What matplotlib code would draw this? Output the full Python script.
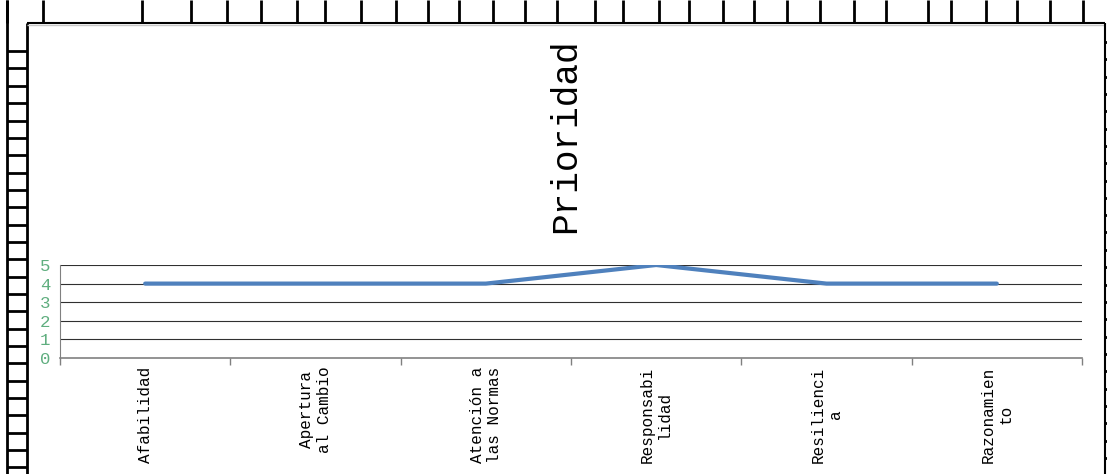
import numpy as np
import matplotlib.pyplot as plt
from matplotlib.lines import Line2D

# chart data
categorias = ["Afabilidad", "Apertura\nal Cambio", "Atención a\nlas Normas",
              "Responsabi\nlidad", "Resilienci\na", "Razonamien\nto"]
prioridad = [4, 4, 4, 5, 4, 4]
y_ticks = [0, 1, 2, 3, 4, 5]

# spreadsheet grid behind the chart (pixel positions)
col_lines = [7, 43, 142, 191, 227, 261, 297, 325, 361, 396, 428, 459, 493, 525,
             557, 595, 623, 659, 689, 723, 754, 787, 820, 854, 886, 928, 951,
             986, 1017, 1050, 1083]
row_lines = [50.7, 68, 86, 103, 120.7, 138, 155, 172.7, 190, 207, 224.7, 242,
             259, 276.7, 294, 311, 328.7, 346, 363, 380.7, 398, 415, 432.7, 450, 467]
right_ticks = [41.7, 59, 76.5, 94, 111, 128.5, 146, 163, 180.5, 198, 215, 232.5,
               250, 267, 284.5, 302, 319, 336.5, 354, 371, 388.5, 406, 423, 440.5, 458]

W, H = 1107, 474
fig = plt.figure(figsize=(W / 100, H / 100), dpi=100)
fig.patch.set_facecolor("white")


def fx(x):
    return x / W


def fy(y):
    return 1 - y / H


def fline(xs, ys, lw=2.0, color="black"):
    fig.add_artist(Line2D([fx(v) for v in xs], [fy(v) for v in ys],
                          transform=fig.transFigure, color=color, lw=lw,
                          solid_capstyle="butt"))


for x in col_lines:
    fline([x, x], [0, 23])
fline([7, 7], [0, H])
fline([27, 27], [23, H])
for y in row_lines:
    fline([7, 27], [y, y])
fline([27, 1105], [23, 23], lw=1.5)
fline([27, 1105], [24.5, 24.5], lw=1.0, color="#c8c8c8")
fline([1105, 1105], [23, H], lw=1.5)
for y in right_ticks:
    fline([1105, W], [y, y])

# chart axes
ax = fig.add_axes([fx(60), fy(358), fx(1082) - fx(60), fy(265) - fy(358)])
x = np.arange(len(categorias))
ax.plot(x, prioridad, color="#4f81bd", lw=3.0, solid_capstyle="round", zorder=3)

ax.set_xlim(-0.5, len(categorias) - 0.5)
ax.set_ylim(0, 5)
ax.set_yticks(y_ticks)
ax.set_yticklabels([str(v) for v in y_ticks], family="Liberation Mono",
                   fontsize=12.5, color="#5fae7f")
ax.tick_params(axis="y", length=0, pad=7)
for v in y_ticks[1:]:
    ax.axhline(v, color="#303030", lw=0.8, zorder=1)

ax.set_xticks(x)
ax.set_xticklabels(categorias, rotation=90, family="Liberation Mono", fontsize=11.5,
                   ha="center", va="top", multialignment="center")
ax.tick_params(axis="x", length=0, pad=6)
ax.set_xticks(np.arange(-0.5, len(categorias)), minor=True)
ax.tick_params(axis="x", which="minor", length=5, color="#808080", width=1)

for s in ["top", "right"]:
    ax.spines[s].set_visible(False)
ax.spines["left"].set_color("#808080")
ax.spines["bottom"].set_color("#808080")
ax.spines["bottom"].set_linewidth(1.2)

fig.text(fx(566), fy(136), "Prioridad", rotation=90, ha="center", va="center",
         family="Liberation Mono", fontsize=26)

fig.savefig("out.png", dpi=100)
